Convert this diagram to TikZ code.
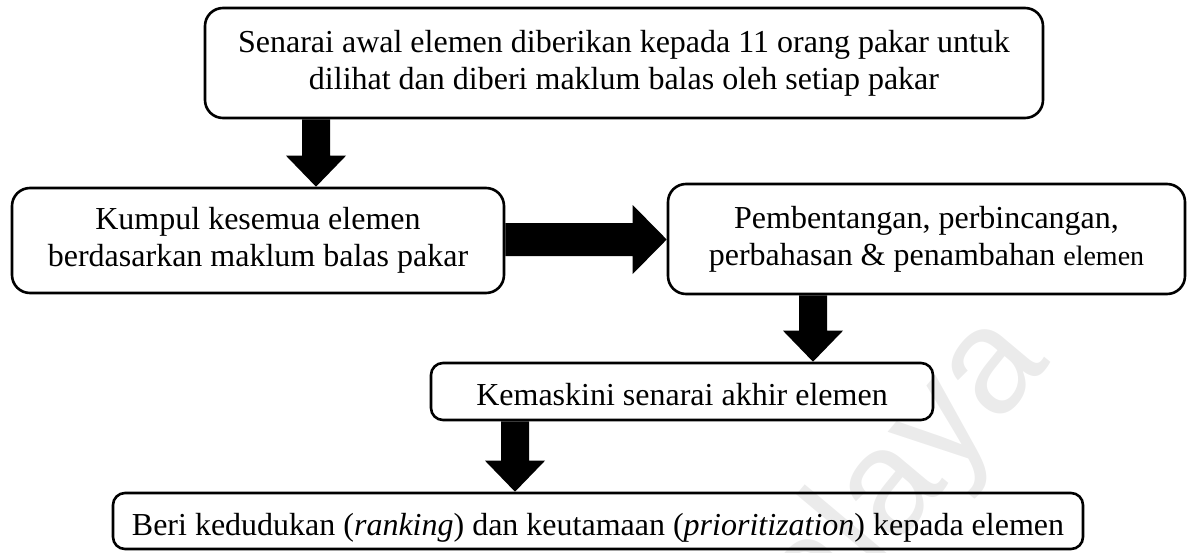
\documentclass[tikz,border=0pt]{standalone}
\usepackage{fontspec}
\setmainfont{Liberation Serif}
\newfontfamily\wmfont{Liberation Sans}
\usetikzlibrary{calc}
% solid block arrows: #1 tail point, #2 tip point
\newcommand\flowdown[2]{%
  \fill[blockarrow] ($(#1)+(-14,0)$) -- ($(#2)+(-14,-31)$) -- ($(#2)+(-30,-31)$)
    -- (#2) -- ($(#2)+(30,-31)$) -- ($(#2)+(14,-31)$) -- ($(#1)+(14,0)$) -- cycle;}
\newcommand\flowright[2]{%
  \fill[blockarrow] ($(#1)+(0,-16.5)$) -- ($(#2)+(-34,-16.5)$) -- ($(#2)+(-34,-34.5)$)
    -- (#2) -- ($(#2)+(-34,34.5)$) -- ($(#2)+(-34,16.5)$) -- ($(#1)+(0,16.5)$) -- cycle;}
\begin{document}
\begin{tikzpicture}[x=1pt,y=-1pt,
  box/.style={draw=black, line width=2.6pt, rounded corners=18pt, align=center,
    inner sep=0pt, font=\fontsize{32}{37}\selectfont},
  slimbox/.style={box, rounded corners=12pt, text height=28pt, text depth=0pt},
  blockarrow/.style={fill=black},
  watermark/.style={font=\wmfont\fontsize{150}{150}\selectfont, text=black!8,
    rotate=50, anchor=base east, inner sep=0pt}]
\useasboundingbox (0,0) rectangle (1189,552);

% faint background watermark
\node[watermark] (wm) at (1051,362) {Malaya};

% process steps
\node[box, minimum width=838pt, minimum height=110pt] (b1) at (624,63)
  {Senarai awal elemen diberikan kepada 11 orang pakar untuk\\
   dilihat dan diberi maklum balas oleh setiap pakar};
\node[box, minimum width=492pt, minimum height=105pt] (b2) at (258,240.5)
  {Kumpul kesemua elemen\\ berdasarkan maklum balas pakar};
\node[box, minimum width=517pt, minimum height=110pt] (b3) at (926.5,239)
  {Pembentangan, perbincangan,\\
   perbahasan \& penambahan {\fontsize{28}{37}\selectfont elemen}};
\node[slimbox, minimum width=502pt, minimum height=57pt] (b4) at (682,391.5)
  {Kemaskini senarai akhir elemen};
\node[slimbox, minimum width=970pt, minimum height=56pt] (b5) at (598,521)
  {Beri kedudukan (\textit{ranking}) dan keutamaan (\textit{prioritization}) kepada elemen};

% arrow axes
\coordinate (ax1) at (316,0);
\coordinate (ax2) at (0,239.5);
\coordinate (ax3) at (813,0);
\coordinate (ax4) at (515,0);

\coordinate (a1t) at (b1.south -| ax1);
\coordinate (a1h) at (b2.north -| ax1);
\coordinate (a2t) at (b2.east |- ax2);
\coordinate (a2h) at (b3.west |- ax2);
\coordinate (a3t) at (b3.south -| ax3);
\coordinate (a3h) at (b4.north -| ax3);
\coordinate (a4t) at (b4.south -| ax4);
\coordinate (a4h) at (b5.north -| ax4);

\flowdown{a1t}{a1h}
\flowright{a2t}{a2h}
\flowdown{a3t}{a3h}
\flowdown{a4t}{a4h}
\end{tikzpicture}
\end{document}
